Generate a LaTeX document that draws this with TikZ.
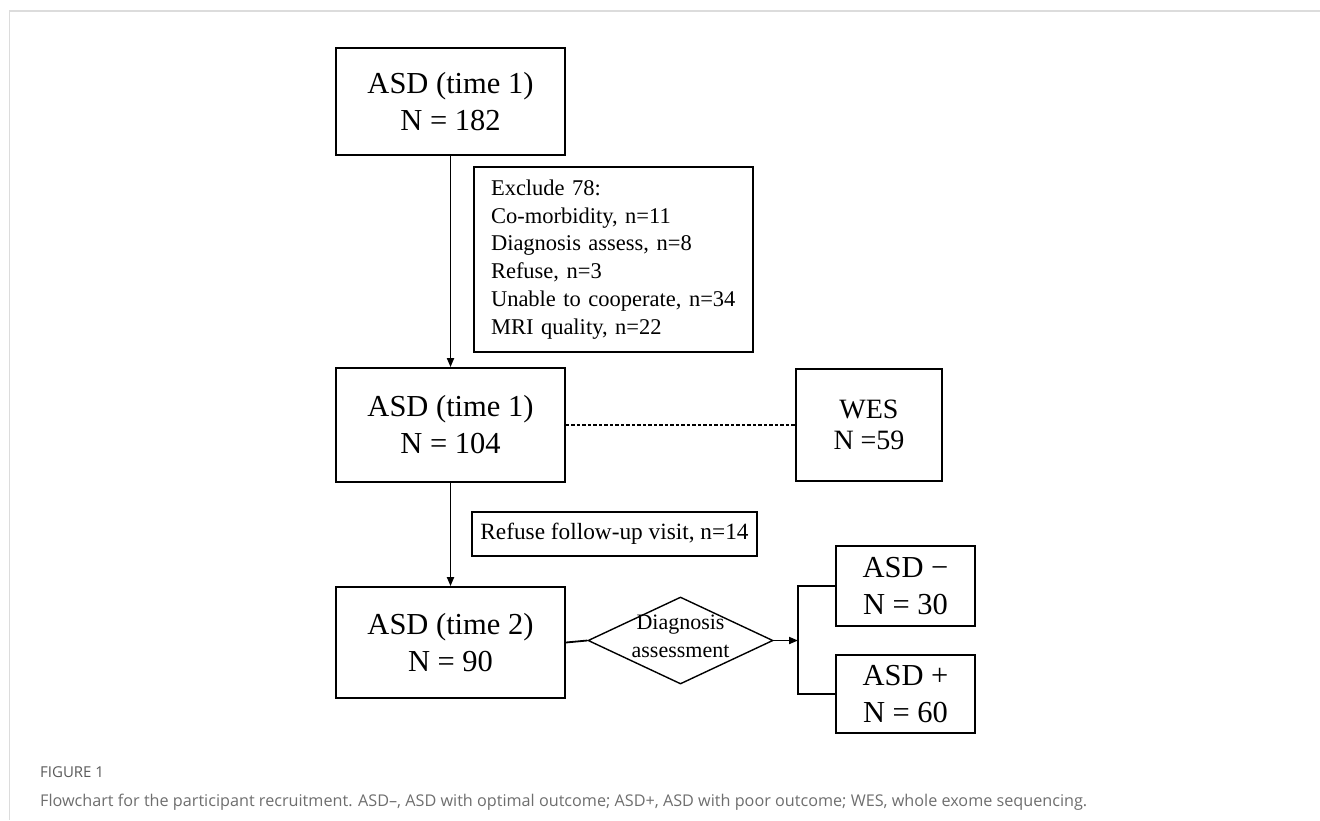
\documentclass[tikz,border=0pt]{standalone}
\usepackage{fontspec}
\setmainfont{Liberation Serif}
\newfontfamily\capfont{Open Sans}
\usetikzlibrary{positioning, arrows.meta, shapes.geometric}
\definecolor{rahmen}{HTML}{DCDCDC}
\definecolor{capgrau}{HTML}{6E6E6E}
\definecolor{capdunkel}{HTML}{5A5A5A}

\begin{document}
\begin{tikzpicture}[x=1pt, y=-1pt,
    kasten/.style={draw, line width=1.8pt, align=center, inner sep=0pt,
      font=\fontsize{30.5}{37}\selectfont},
    notiz/.style={draw, line width=1.8pt, inner sep=0pt,
      font=\fontsize{22.5}{27.8}\selectfont},
    pfeil/.style={-{Triangle[length=9pt, width=7pt]}, line width=1.8pt},
    linie/.style={line width=1.8pt}]
  \useasboundingbox (0,0) rectangle (1320,820);
  % card frame
  \draw[rahmen, line width=2pt] (9,11) -- (1320,11);
  \draw[rahmen, line width=1pt] (9,11) -- (9,820);
  % main column
  \node[kasten, minimum width=229pt, minimum height=107pt] (t1a) at (450.5,101.5) {ASD (time 1)\\N = 182};
  \node[kasten, minimum width=229pt, minimum height=114pt] (t1b) at (450.5,425) {ASD (time 1)\\N = 104};
  \node[kasten, minimum width=229pt, minimum height=111pt] (t2) at (450.5,642.5) {ASD (time 2)\\N = 90};
  % side notes
  \node[notiz, align=left, text width=245pt, minimum width=279pt, minimum height=185pt] (excl) at (613.5,259.5)
    {Exclude 78:\\Co-morbidity, n=11\\Diagnosis assess, n=8\\Refuse, n=3\\Unable to cooperate, n=34\\MRI quality, n=22};
  \node[notiz, font=\fontsize{23.3}{28}\selectfont, minimum width=285pt, minimum height=44pt] (refuse) at (614.5,534) {Refuse follow-up visit, n=14};
  \node[kasten, font=\fontsize{28}{31}\selectfont, minimum width=146pt, minimum height=112pt] (wes) at (869,425) {WES\\N =59};
  % outcome
  \node[draw, diamond, line width=1.4pt, minimum width=185pt, minimum height=87pt, inner sep=0pt] (dg) at (680.5,640.5) {};
  \node[align=center, inner sep=0pt, font=\fontsize{22}{28}\selectfont] (dgtext) at (680.5,636) {Diagnosis\\assessment};
  \node[kasten, minimum width=139pt, minimum height=80pt] (asdm) at (905.5,586) {ASD −\\N = 30};
  \node[kasten, minimum width=139pt, minimum height=78pt] (asdp) at (905.5,694) {ASD +\\N = 60};
  \coordinate (gabel) at (798,640.5);
  % connectors
  \draw[pfeil] (t1a) -- (t1b);
  \draw[pfeil] (t1b) -- (t2);
  \draw[linie, line width=1.5pt, dash pattern=on 3.5pt off 2pt] (t1b) -- (wes);
  \draw[linie] (t2.east) -- (dg.west);
  \draw[pfeil] (dg.east) -- (gabel);
  \draw[linie] (asdm.west) -| (gabel) |- (asdp.west);
  % caption
  \node[anchor=base west, inner sep=0pt, text=capdunkel, font=\capfont\fontsize{15}{17}\selectfont] (fignum) at (40,777) {FIGURE 1};
  \node[anchor=base west, inner sep=0pt, text=capgrau, font=\capfont\fontsize{16.2}{18}\selectfont] (caption) at (40,806)
    {Flowchart for the participant recruitment. ASD–, ASD with optimal outcome; ASD+, ASD with poor outcome; WES, whole exome sequencing.};
\end{tikzpicture}
\end{document}
